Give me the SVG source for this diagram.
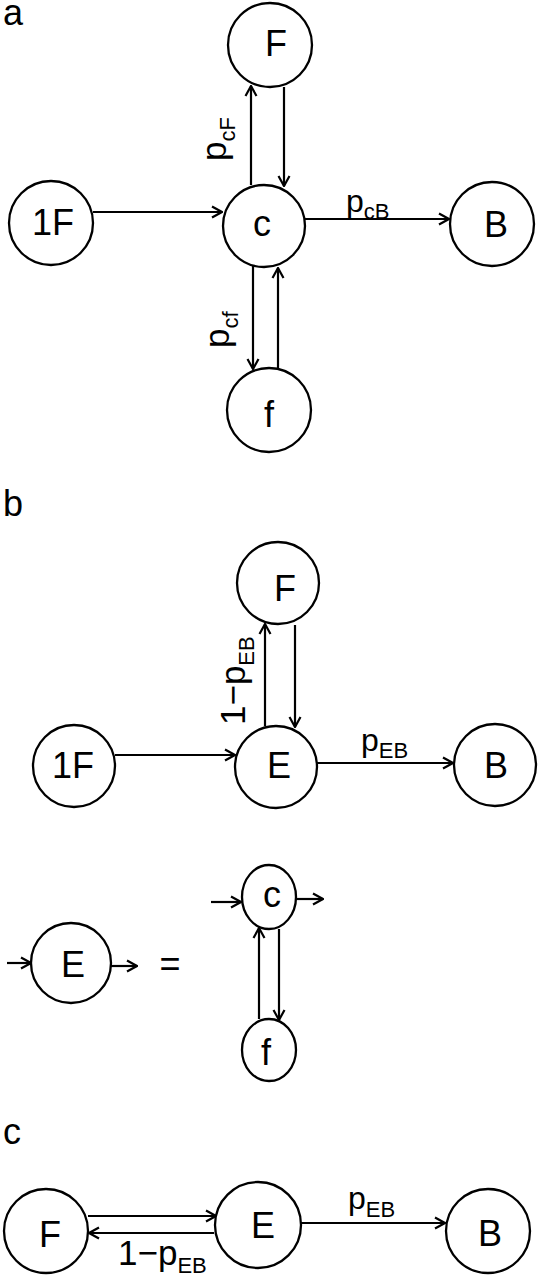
<svg xmlns="http://www.w3.org/2000/svg" width="539" height="1280" viewBox="0 0 539 1280">
<style>
.n{fill:#fff;stroke:#000;stroke-width:2.3}
.t{font-family:"Liberation Sans",Arial,sans-serif;font-size:36px;text-anchor:middle;fill:#000}
.l{font-family:"Liberation Sans",Arial,sans-serif;font-size:32px;fill:#000}
.r{font-family:"Liberation Sans",Arial,sans-serif;font-size:35px;fill:#000}
.s{font-size:22px}
.p{font-family:"Liberation Sans",Arial,sans-serif;font-size:36px;fill:#000}
.e{fill:none;stroke:#000;stroke-width:2.2;marker-end:url(#arr)}
</style>
<defs>
<marker id="arr" viewBox="0 0 12 14" refX="11" refY="7" markerWidth="12" markerHeight="14" markerUnits="userSpaceOnUse" orient="auto">
<path d="M1,1.5 L11,7 L1,12.5" fill="none" stroke="#000" stroke-width="2.2"/>
</marker>
</defs>
<rect width="539" height="1280" fill="#fff"/>
<text class="p" x="3" y="25">a</text>
<text class="p" x="3" y="516">b</text>
<text class="p" x="3" y="1144">c</text>

<g id="connectors">
<path class="e" d="M93,212 L222,212"/>
<path class="e" d="M305,219 L449,219"/>
<path class="e" d="M251,185 L251,86"/>
<path class="e" d="M284,87 L284,186"/>
<path class="e" d="M253,266 L253,369"/>
<path class="e" d="M278,369 L278,268"/>

<path class="e" d="M265,726 L265,624"/>
<path class="e" d="M295,625 L295,727"/>
<path class="e" d="M115,755 L235,755"/>
<path class="e" d="M317,763 L453,763"/>

<path class="e" d="M7,963 L31,963"/>
<path class="e" d="M111,966 L137,966"/>
<path class="e" d="M211,902 L241,902"/>
<path class="e" d="M296,899 L323,899"/>
<path class="e" d="M259,1019 L259,928"/>
<path class="e" d="M279,929 L279,1020"/>

<path class="e" d="M88,1216 L216,1216"/>
<path class="e" d="M214,1233 L89,1233"/>
<path class="e" d="M301,1223 L445,1223"/>
</g>

<g id="labels">
<text class="l" x="346" y="212">p<tspan class="s" dy="7">cB</tspan></text>
<text class="r" transform="translate(226,161) rotate(-90)">p<tspan class="s" dy="9">cF</tspan></text>
<text class="r" transform="translate(229,348) rotate(-90)">p<tspan class="s" dy="9">cf</tspan></text>
<text class="l" x="361" y="751">p<tspan class="s" dy="7">EB</tspan></text>
<text class="r" transform="translate(245,725) rotate(-90)">1−p<tspan class="s" dy="9">EB</tspan></text>
<text class="l" x="348" y="1209">p<tspan class="s" dy="8">EB</tspan></text>
<text class="r" x="118" y="1265">1−p<tspan class="s" dy="8">EB</tspan></text>
<text class="t" x="170" y="976">=</text>
</g>

<g id="a-F"><circle class="n" cx="270" cy="45" r="42"/><text class="t" x="276" y="56">F</text></g>
<g id="a-c"><circle class="n" cx="264" cy="226" r="41"/><text class="t" x="262" y="236">c</text></g>
<g id="a-1F"><circle class="n" cx="51" cy="223" r="42"/><text class="t" x="53" y="235">1F</text></g>
<g id="a-B"><circle class="n" cx="492" cy="224" r="42"/><text class="t" x="496" y="237">B</text></g>
<g id="a-f"><circle class="n" cx="269" cy="410" r="42"/><text class="t" x="269" y="427">f</text></g>

<g id="b-F"><circle class="n" cx="278" cy="583" r="41"/><text class="t" x="285" y="601">F</text></g>
<g id="b-E"><circle class="n" cx="276" cy="767" r="41"/><text class="t" x="279" y="778">E</text></g>
<g id="b-1F"><circle class="n" cx="74" cy="766" r="41"/><text class="t" x="73" y="778">1F</text></g>
<g id="b-B"><circle class="n" cx="495" cy="765" r="41"/><text class="t" x="496" y="778">B</text></g>

<g id="b-E2"><circle class="n" cx="71" cy="963" r="40"/><text class="t" x="73" y="977">E</text></g>
<g id="b-c"><ellipse class="n" cx="269" cy="897" rx="27" ry="32"/><text class="t" x="272" y="907">c</text></g>
<g id="b-f"><ellipse class="n" cx="269" cy="1050" rx="27" ry="31"/><text class="t" x="266" y="1065">f</text></g>

<g id="c-F"><circle class="n" cx="46" cy="1231" r="42"/><text class="t" x="50" y="1247">F</text></g>
<g id="c-E"><circle class="n" cx="258" cy="1225" r="43"/><text class="t" x="263" y="1238">E</text></g>
<g id="c-B"><circle class="n" cx="488" cy="1231" r="42"/><text class="t" x="490" y="1246">B</text></g>
</svg>
